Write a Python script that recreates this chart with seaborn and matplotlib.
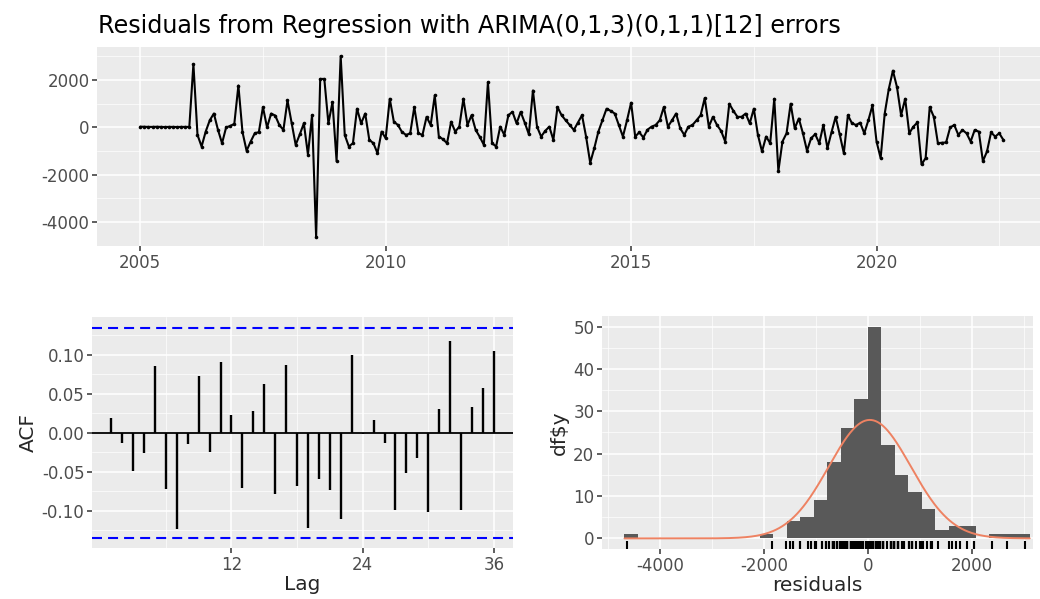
import numpy as np
import pandas as pd
import matplotlib
matplotlib.use("Agg")
import matplotlib.pyplot as plt
import seaborn as sns
from matplotlib.ticker import FixedLocator, FormatStrFormatter

# residuals, monthly from Jan 2005
residuals = [
    30, 25, 20, 20, 25, 20, 15, 20, 20, 15, 20, 20,
    20, 2680, -320, -810, -180, 300, 585, -100, -670, 0, 60, 150,
    1770, -200, -990, -600, -250, -200, 860, 0, 585, 500, 100, -110,
    1140, 200, -740, -300, 170, -1150, 515, -4640, 2050, 2050, 170, 1070,
    -1430, 3020, -320, -810, -670, 790, 170, 585, -530, -670, -1090, -180,
    -460, 1210, 240, 100, -200, -320, -250, 860, -250, -320, 445, 100,
    1350, -390, -500, -670, 240, -180, 30, 1210, 100, 515, -110, -400,
    -740, 1910, -670, -810, 30, -320, 515, 655, 170, 655, 200, -290,
    1560, 30, -390, -150, 30, -530, 860, 515, 300, 100, -110, 200,
    515, -400, -1500, -880, -180, 300, 790, 700, 585, 100, -390, 300,
    1045, -390, -210, -430, -100, 30, 100, 300, 860, 30, 300, 585,
    -40, -320, 30, 100, 300, 515, 1240, 30, 445, 100, -150, -600,
    1000, 700, 445, 445, 585, 170, 790, -320, -1020, -390, -670, 1210,
    -1850, -600, -250, 1000, -40, 375, -250, -990, -460, -290, -670, 100,
    -880, -200, 445, -300, -1090, 515, 170, 100, 200, -250, 300, 930,
    -600, -1300, 585, 1630, 2400, 1700, 515, 1210, -250, 30, 210, -1570,
    -1300, 860, 445, -670, -650, -640, 0, 100, -320, -110, -250, -600,
    -110, -180, -1430, -1020, -210, -390, -250, -530,
]
start_year = 2005

# ACF at lags 1..36
acf_values = [
    0.019, -0.013, -0.049, -0.026, 0.085, -0.073, -0.124, -0.015, 0.072,
    -0.025, 0.091, 0.023, -0.071, 0.028, 0.062, -0.079, 0.087, -0.068,
    -0.122, -0.060, -0.074, -0.111, 0.099, -0.002, 0.016, -0.013, -0.099,
    -0.052, -0.033, -0.102, 0.030, 0.118, -0.099, 0.033, 0.057, 0.104,
]

# histogram bins and counts
bin_start = -4682
bin_width = 260
hist_counts = [1, 0, 0, 0, 0, 0, 0, 0, 0, 0,
               1, 0, 4, 5, 9, 18, 26, 33, 50, 22,
               15, 11, 7, 2, 3, 3, 0, 1, 1, 1]
norm_mean = 40
norm_sd = 790

title = "Residuals from Regression with ARIMA(0,1,3)(0,1,1)[12] errors"

sns.set_theme(style="darkgrid", rc={
    "axes.facecolor": "#EBEBEB",
    "grid.color": "white",
    "axes.edgecolor": "none",
    "axes.unicode_minus": False,
})
plt.rcParams["font.family"] = ["DejaVu Sans"]

tick_kw = dict(direction="out", length=3.5, width=1.1, color="#333333",
               labelcolor="#4D4D4D", labelsize=12, pad=2)

def style_axes(ax):
    ax.tick_params(which="major", bottom=True, left=True, **tick_kw)
    ax.tick_params(which="minor", bottom=False, left=False)
    ax.grid(which="major", color="white", linewidth=1.1)
    ax.grid(which="minor", color="white", linewidth=0.5)
    for s in ax.spines.values():
        s.set_visible(False)

fig = plt.figure(figsize=(10.4, 5.99), dpi=100)

# top: residual time series
ax_ts = fig.add_axes([0.0933, 0.5893, 0.9067, 0.3322])
ts = pd.DataFrame({
    "time": start_year + np.arange(len(residuals)) / 12.0,
    "resid": residuals,
})
sns.lineplot(data=ts, x="time", y="resid", ax=ax_ts, color="black",
             linewidth=1.5, marker="o", markersize=2.6, markeredgewidth=0)
ax_ts.set_xlim(2004.12, 2023.33)
ax_ts.set_ylim(-5020, 3400)
ax_ts.xaxis.set_major_locator(FixedLocator([2005, 2010, 2015, 2020]))
ax_ts.xaxis.set_minor_locator(FixedLocator([2007.5, 2012.5, 2017.5, 2022.5]))
ax_ts.yaxis.set_major_locator(FixedLocator([-4000, -2000, 0, 2000]))
ax_ts.yaxis.set_minor_locator(FixedLocator([-5000, -3000, -1000, 1000, 3000]))
ax_ts.set_xlabel("")
ax_ts.set_ylabel("")
style_axes(ax_ts)
fig.text(0.0942, 0.9444, title, fontsize=17.2, color="black", ha="left", va="baseline")

# bottom left: ACF
ax_acf = fig.add_axes([0.0885, 0.0851, 0.4048, 0.3856])
lags = np.arange(1, len(acf_values) + 1)
ax_acf.axhline(0, color="black", linewidth=1.3, zorder=2)
ax_acf.vlines(lags, 0, acf_values, color="black", linewidth=1.7, zorder=3)
ci = 1.96 / np.sqrt(len(residuals))
for c in (ci, -ci):
    ax_acf.axhline(c, color="blue", linestyle=(0, (4.8, 2.9)), linewidth=1.5, zorder=3)
ax_acf.set_xlim(1 - 0.05 * 35, 36 + 0.05 * 35)
ax_acf.set_ylim(-ci - 0.1 * ci, ci + 0.1 * ci)
ax_acf.xaxis.set_major_locator(FixedLocator([12, 24, 36]))
ax_acf.xaxis.set_minor_locator(FixedLocator([6, 18, 30]))
ax_acf.yaxis.set_major_locator(FixedLocator([-0.10, -0.05, 0.0, 0.05, 0.10]))
ax_acf.yaxis.set_minor_locator(FixedLocator([-0.125, -0.075, -0.025, 0.025, 0.075, 0.125]))
ax_acf.yaxis.set_major_formatter(FormatStrFormatter("%.2f"))
ax_acf.set_xlabel("Lag", fontsize=14.5, labelpad=1)
ax_acf.set_ylabel("ACF", fontsize=14.5, labelpad=3)
style_axes(ax_acf)

# bottom right: histogram with normal curve and rug
ax_h = fig.add_axes([0.5788, 0.0835, 0.4144, 0.389])
edges = [bin_start + bin_width * i for i in range(len(hist_counts) + 1)]
hist_df = pd.DataFrame({
    "mid": [e + bin_width / 2 for e in edges[:-1]],
    "count": hist_counts,
})
sns.histplot(data=hist_df, x="mid", weights="count", bins=edges, ax=ax_h,
             color="#595959", alpha=1, linewidth=0, edgecolor="none", zorder=2)
xs = np.linspace(edges[0], edges[-1], 400)
dens = np.exp(-0.5 * ((xs - norm_mean) / norm_sd) ** 2) / (norm_sd * np.sqrt(2 * np.pi))
ax_h.plot(xs, dens * sum(hist_counts) * bin_width, color="#EE8262", linewidth=1.4, zorder=3)
sns.rugplot(x=residuals, ax=ax_h, height=0.035, color="black", linewidth=1.5, zorder=4)
ax_h.set_xlim(-5116, 3180)
ax_h.set_ylim(-2.5, 52.5)
ax_h.xaxis.set_major_locator(FixedLocator([-4000, -2000, 0, 2000]))
ax_h.xaxis.set_minor_locator(FixedLocator([-5000, -3000, -1000, 1000, 3000]))
ax_h.yaxis.set_major_locator(FixedLocator([0, 10, 20, 30, 40, 50]))
ax_h.yaxis.set_minor_locator(FixedLocator([5, 15, 25, 35, 45]))
ax_h.set_xlabel("residuals", fontsize=14.5, labelpad=1)
ax_h.set_ylabel(r"df\$y", fontsize=14.5, labelpad=3)
style_axes(ax_h)

fig.savefig("out.png", dpi=100)
